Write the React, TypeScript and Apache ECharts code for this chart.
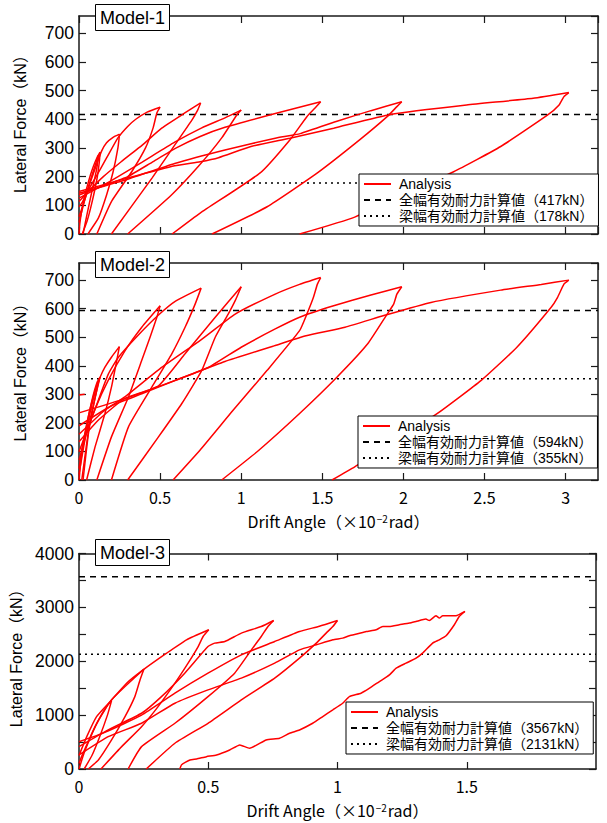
import React, { useEffect, useRef } from 'react';
import * as echarts from 'echarts';

// ---------- data (drift angle ×10^-2 rad, lateral force kN) ----------
const panelNames = ['Model-1', 'Model-2', 'Model-3'];
const xTickStep = 0.5;

const m1Refs = [417, 178];
const m2Refs = [594, 355];
const m3Refs = [3567, 2131];

const m1Curves: number[][][] = [
  [[0, 0], [0.005, 35], [0.015, 75], [0.03, 120], [0.05, 165], [0.07, 205], [0.09, 238], [0.11, 265], [0.13, 285]],
  [[0.13, 285], [0.125, 250], [0.11, 190], [0.08, 110], [0.05, 45], [0.02, 0]],
  [[0, 40], [0.02, 85], [0.05, 150], [0.08, 205], [0.1, 240], [0.12, 275]],
  [[0.12, 275], [0.11, 230], [0.08, 150], [0.05, 70], [0.025, 0]],
  [[0, 60], [0.03, 110], [0.07, 180], [0.11, 245], [0.14, 290], [0.17, 318], [0.21, 337], [0.25, 348]],
  [[0.25, 348], [0.24, 300], [0.21, 216], [0.17, 136], [0.12, 56], [0.055, 0]],
  [[0, 95], [0.02, 110], [0.05, 145], [0.1, 195], [0.17, 265], [0.24, 335], [0.3, 375], [0.35, 400], [0.42, 425], [0.5, 442]],
  [[0.5, 442], [0.48, 422], [0.457, 370], [0.41, 300], [0.325, 217], [0.2, 113], [0.11, 0]],
  [[0, 113], [0.06, 150], [0.15, 200], [0.26, 252], [0.39, 310], [0.51, 369], [0.65, 421], [0.75, 457]],
  [[0.75, 457], [0.73, 430], [0.696, 397], [0.59, 310], [0.45, 195], [0.2, 0]],
  [[0, 125], [0.18, 180], [0.387, 250], [0.59, 320], [0.757, 370], [0.9, 405], [1.0, 432]],
  [[1.0, 432], [0.973, 415], [0.88, 335], [0.735, 235], [0.57, 136], [0.3, 0]],
  [[0, 136], [0.15, 168], [0.3, 200], [0.45, 250], [0.6, 300], [0.747, 340], [0.9, 372], [1.21, 420], [1.49, 461]],
  [[1.49, 461], [1.457, 440], [1.405, 409], [1.3, 328], [1.117, 213], [0.747, 73], [0.574, 0]],
  [[0, 142], [0.284, 188], [0.59, 246], [0.9, 293], [1.21, 334], [1.364, 350], [1.6, 395], [1.8, 430], [1.99, 461]],
  [[1.99, 461], [1.96, 444], [1.9, 409], [1.73, 328], [1.47, 213], [1.16, 95], [0.82, 0]],
  [[0, 148], [0.3, 195], [0.59, 238], [0.747, 252], [0.86, 266], [1.06, 305], [1.3, 334], [1.57, 369], [1.92, 417], [2.39, 450], [2.8, 473], [3.02, 493]],
  [[3.02, 493], [2.99, 479], [2.96, 450], [2.89, 415], [2.6, 305], [2.31, 217], [1.7, 59], [1.36, 0]],
];

const m2Curves: number[][][] = [
  [[0, 0], [0.01, 60], [0.02, 100], [0.05, 200], [0.08, 280], [0.11, 340], [0.13, 360]],
  [[0.13, 360], [0.11, 314], [0.068, 209], [0.017, 0]],
  [[0, 20], [0.03, 120], [0.07, 240], [0.1, 310], [0.125, 355]],
  [[0.125, 355], [0.1, 290], [0.06, 170], [0.025, 0]],
  [[0, 298], [0.035, 300]],
  [[0, 40], [0.017, 105], [0.057, 221], [0.099, 314], [0.13, 360], [0.16, 395], [0.2, 430], [0.249, 467]],
  [[0.249, 467], [0.233, 419], [0.2, 325], [0.16, 233], [0.099, 116], [0.047, 0]],
  [[0, 70], [0.05, 170], [0.1, 250], [0.18, 349], [0.284, 453], [0.387, 535], [0.5, 610]],
  [[0.5, 610], [0.48, 570], [0.438, 500], [0.387, 419], [0.305, 291], [0.2, 151], [0.11, 0]],
  [[0, 99], [0.1, 250], [0.18, 370], [0.243, 430], [0.366, 508], [0.49, 578], [0.593, 626], [0.753, 672]],
  [[0.753, 672], [0.716, 616], [0.654, 535], [0.572, 442], [0.449, 325], [0.305, 186], [0.2, 0]],
  [[0, 134], [0.12, 210], [0.28, 285], [0.49, 330], [0.654, 442], [0.84, 570], [1.0, 677]],
  [[1.0, 677], [0.963, 628], [0.92, 581], [0.84, 500], [0.757, 384], [0.634, 268], [0.49, 151], [0.3, 0]],
  [[0, 160], [0.15, 240], [0.28, 290], [0.5, 390], [0.75, 490], [0.963, 581], [1.21, 651], [1.36, 685], [1.49, 709]],
  [[1.49, 709], [1.47, 686], [1.445, 639], [1.405, 581], [1.36, 523], [1.16, 384], [0.95, 244], [0.747, 105], [0.58, 0]],
  [[0, 190], [0.2, 260], [0.387, 302], [0.6, 350], [0.8, 395], [1.0, 465], [1.21, 529], [1.36, 570], [1.57, 610], [1.8, 648], [1.99, 677]],
  [[1.99, 677], [1.96, 651], [1.94, 616], [1.9, 581], [1.78, 477], [1.59, 360], [1.36, 233], [1.1, 100], [0.88, 0]],
  [[0, 235], [0.284, 285], [0.593, 349], [0.9, 415], [1.21, 471], [1.4, 505], [1.64, 535], [1.88, 576], [2.17, 622], [2.6, 665], [2.85, 685], [3.02, 700]],
  [[3.02, 700], [2.99, 686], [2.95, 639], [2.91, 604], [2.7, 465], [2.48, 349], [2.21, 233], [1.95, 138], [1.7, 46], [1.56, 0]],
];

const m3Curves: number[][][] = [
  [[0, 0], [0.02, 300], [0.05, 650], [0.08, 950], [0.11, 1180], [0.126, 1270]],
  [[0.126, 1270], [0.11, 1000], [0.08, 600], [0.05, 250], [0.02, 0]],
  [[0, 100], [0.01, 229], [0.062, 786], [0.1, 1100], [0.126, 1283], [0.178, 1530], [0.251, 1853]],
  [[0.251, 1853], [0.236, 1654], [0.216, 1344], [0.178, 972], [0.126, 539], [0.075, 167], [0.036, 0]],
  [[0, 250], [0.03, 600], [0.068, 972], [0.12, 1250], [0.184, 1593], [0.248, 1840], [0.339, 2150], [0.416, 2398], [0.502, 2584]],
  [[0.502, 2584], [0.48, 2459], [0.461, 2273], [0.422, 1965], [0.371, 1593], [0.306, 1158], [0.242, 786], [0.165, 415], [0.085, 0]],
  [[0, 415], [0.113, 725], [0.242, 1035], [0.319, 1344], [0.409, 1779], [0.499, 2273], [0.525, 2336], [0.564, 2366], [0.628, 2522], [0.705, 2645], [0.753, 2757]],
  [[0.753, 2757], [0.731, 2645], [0.705, 2459], [0.667, 2212], [0.602, 1779], [0.499, 1344], [0.371, 849], [0.242, 415], [0.19, 0]],
  [[0, 507], [0.1, 680], [0.242, 1000], [0.371, 1407], [0.499, 1778], [0.628, 2119], [0.757, 2366], [0.853, 2552], [0.93, 2650], [1.0, 2757]],
  [[1.0, 2757], [0.982, 2645], [0.956, 2522], [0.918, 2336], [0.853, 2057], [0.757, 1686], [0.628, 1283], [0.499, 849], [0.371, 478], [0.26, 0]],
  [[0, 260], [0.113, 600], [0.242, 849], [0.371, 1221], [0.499, 1468], [0.628, 1686], [0.757, 1965], [0.853, 2212], [0.918, 2305],
   [0.982, 2398], [1.02, 2429], [1.046, 2472], [1.078, 2509], [1.111, 2552], [1.149, 2584], [1.175, 2645], [1.2, 2645], [1.239, 2677],
   [1.278, 2708], [1.304, 2738], [1.342, 2782], [1.355, 2757], [1.381, 2844], [1.394, 2801], [1.407, 2844], [1.458, 2844], [1.493, 2924]],
  [[1.493, 2924], [1.471, 2831], [1.452, 2677], [1.42, 2472], [1.394, 2398], [1.368, 2336], [1.329, 2150], [1.304, 2057], [1.265, 1964],
   [1.227, 1871], [1.201, 1747], [1.162, 1623], [1.124, 1500], [1.091, 1407], [1.046, 1345], [1.02, 1221], [0.982, 1097], [0.943, 973],
   [0.904, 849], [0.853, 725], [0.815, 664], [0.776, 571], [0.724, 539], [0.66, 385], [0.622, 446], [0.583, 353], [0.532, 260],
   [0.493, 229], [0.455, 186], [0.429, 167], [0.397, 80], [0.39, 0]],
];

const curves = [m1Curves, m2Curves, m3Curves];
const refs = [m1Refs, m2Refs, m3Refs];

// ---------- layout / styles ----------
const FONT_LATIN = "'Liberation Sans', Arial, sans-serif";
const FONT_JP = "'Noto Sans CJK JP', sans-serif";
const FONT_MIX = "'Liberation Sans', 'Noto Sans CJK JP', sans-serif";
const RED = '#ff0000';
const AXIS = '#1a1a1a';

const layout = [
  { grid: { left: 79, top: 16, width: 519, height: 218 }, xMax: 3.2, yMax: 760, yStep: 100, yLabelStep: 100, titleTop: 4, legendTop: 174, legendLeft: 359, showX: false, yNamePad: 10 },
  { grid: { left: 79, top: 263, width: 519, height: 217 }, xMax: 3.2, yMax: 760, yStep: 100, yLabelStep: 100, titleTop: 251, legendTop: 416, legendLeft: 358, showX: true, yNamePad: 6 },
  { grid: { left: 79, top: 553.5, width: 517, height: 215.5 }, xMax: 2, yMax: 4000, yStep: 500, yLabelStep: 1000, titleTop: 539, legendTop: 702, legendLeft: 346, showX: true, yNamePad: 14 },
];

function buildOption() {
  const grid: any[] = [];
  const xAxis: any[] = [];
  const yAxis: any[] = [];
  const series: any[] = [];
  const legend: any[] = [];
  const title: any[] = [];

  layout.forEach((L, p) => {
    grid.push({ ...L.grid, containLabel: false });
    const fullName = `全幅有効耐力計算値（${refs[p][0]}kN）`;
    const beamName = `梁幅有効耐力計算値（${refs[p][1]}kN）`;

    const tick = { show: true, inside: true, length: 7, lineStyle: { color: AXIS, width: 1.2 } };
    const line = { show: true, onZero: false, lineStyle: { color: AXIS, width: 1.5 } };

    xAxis.push({
      gridIndex: p, type: 'value', position: 'bottom', min: 0, max: L.xMax, interval: xTickStep,
      axisLine: line, axisTick: tick, splitLine: { show: false },
      axisLabel: { show: L.showX, showMaxLabel: false, margin: 9, fontFamily: FONT_JP, fontSize: 16, color: '#000' },
      name: L.showX ? '{t|Drift Angle（×10}{s|−2}{t|rad）}' : '',
      nameLocation: 'middle', nameGap: 33,
      nameTextStyle: {
        fontFamily: FONT_JP, fontSize: 16, color: '#000',
        rich: {
          t: { fontFamily: FONT_JP, fontSize: 16, color: '#000' },
          s: { fontFamily: FONT_JP, fontSize: 10, color: '#000', verticalAlign: 'top', padding: [0, 1, 0, 1] },
        },
      },
    });
    xAxis.push({
      gridIndex: p, type: 'value', position: 'top', min: 0, max: L.xMax, interval: xTickStep,
      axisLine: line, axisTick: tick, splitLine: { show: false }, axisLabel: { show: false },
    });
    yAxis.push({
      gridIndex: p, type: 'value', position: 'left', min: 0, max: L.yMax, interval: L.yStep,
      axisLine: line, axisTick: tick, splitLine: { show: false },
      axisLabel: {
        show: true, margin: 5, fontFamily: FONT_LATIN, fontSize: 17.5, color: '#000',
        showMaxLabel: L.yMax % L.yLabelStep === 0,
        formatter: (v: number) => (v % L.yLabelStep === 0 ? String(v) : ''),
      },
      name: 'Lateral Force（kN）', nameLocation: 'middle', nameRotate: 90, nameGap: 51,
      nameTextStyle: { fontFamily: FONT_MIX, fontSize: 16, color: '#000', padding: [0, 0, 0, L.yNamePad] },
    });
    yAxis.push({
      gridIndex: p, type: 'value', position: 'right', min: 0, max: L.yMax, interval: L.yStep,
      axisLine: line, axisTick: tick, splitLine: { show: false }, axisLabel: { show: false },
    });

    curves[p].forEach((c) => {
      series.push({
        type: 'line', name: 'Analysis', xAxisIndex: 2 * p, yAxisIndex: 2 * p, data: c,
        symbol: 'none', smooth: 0.15, silent: true, z: 3,
        lineStyle: { color: RED, width: 1.5 }, itemStyle: { color: RED },
      });
    });
    series.push({
      type: 'line', name: fullName, xAxisIndex: 2 * p, yAxisIndex: 2 * p,
      data: [[0, refs[p][0]], [L.xMax, refs[p][0]]], symbol: 'none', silent: true, z: 2,
      lineStyle: { color: '#000', width: 1.5, type: [6, 5] }, itemStyle: { color: '#000' },
    });
    series.push({
      type: 'line', name: beamName, xAxisIndex: 2 * p, yAxisIndex: 2 * p,
      data: [[0, refs[p][1]], [L.xMax, refs[p][1]]], symbol: 'none', silent: true, z: 2,
      lineStyle: { color: '#000', width: 1.5, type: [2, 4] }, itemStyle: { color: '#000' },
    });

    legend.push({
      data: ['Analysis', fullName, beamName], orient: 'vertical', left: L.legendLeft, top: L.legendTop,
      itemWidth: 27, itemHeight: 14, itemGap: 2, padding: [3, 5, 3, 4],
      backgroundColor: '#fff', borderColor: '#000', borderWidth: 1, borderRadius: 0,
      selectedMode: false, inactiveColor: '#000',
      itemStyle: { opacity: 0, borderWidth: 0 },
      textStyle: { fontFamily: FONT_MIX, fontSize: 14, color: '#000', padding: [0, 0, 0, 3] },
    });

    title.push({
      text: panelNames[p], left: 95, top: L.titleTop, padding: [5, 5, 4, 5],
      borderColor: '#000', borderWidth: 1, backgroundColor: '#fff',
      textStyle: { fontFamily: FONT_LATIN, fontSize: 18, fontWeight: 'normal', color: '#000' },
    });
  });

  return { animation: false, backgroundColor: '#fff', title, legend, grid, xAxis, yAxis, series };
}

export default function App() {
  const ref = useRef<HTMLDivElement>(null);
  useEffect(() => {
    if (!ref.current) return;
    const chart = echarts.init(ref.current, null, { renderer: 'svg' });
    chart.setOption(buildOption());
    return () => chart.dispose();
  }, []);
  return (
    <div
      ref={ref}
      style={{ position: 'absolute', left: 0, top: 0, width: 607, height: 823, background: '#fff' }}
    />
  );
}
